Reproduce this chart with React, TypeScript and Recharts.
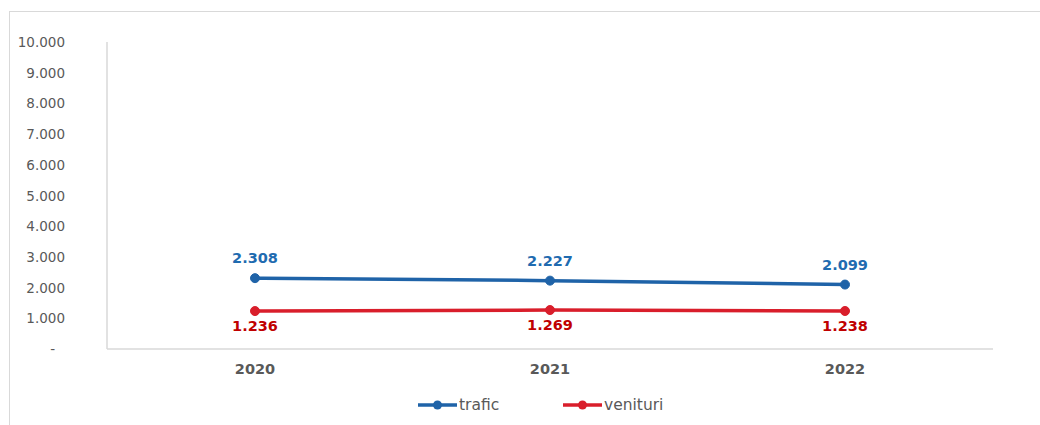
import React from "react";
import { LineChart, Line, XAxis, YAxis, LabelList } from "recharts";

const years = ["2020", "2021", "2022"];
const trafic = [2308, 2227, 2099];
const venituri = [1236, 1269, 1238];
const yTicks = [0, 1000, 2000, 3000, 4000, 5000, 6000, 7000, 8000, 9000, 10000];

const BLUE = "#1f63a8";
const RED = "#d91e2b";
const BLUE_LABEL = "#1f6bb0";
const RED_LABEL = "#c00000";
const GRAY = "#595959";
const FONT = "'DejaVu Sans', Verdana, sans-serif";

const data = years.map((y, i) => ({ year: y, trafic: trafic[i], venituri: venituri[i] }));

const fmt = (v: number) => (v === 0 ? "-" : v.toLocaleString("de-DE"));

const YTick = (props: any) => {
  const { x, y, payload } = props;
  const isZero = payload.value === 0;
  return (
    <text x={isZero ? x - 10 : x} y={y} dy={5} textAnchor="end" fill={GRAY} fontSize={13.5} fontFamily={FONT}>
      {fmt(payload.value)}
    </text>
  );
};

const XTick = (props: any) => {
  const { x, y, payload } = props;
  return (
    <text x={x} y={y + 17} textAnchor="middle" fill={GRAY} fontSize={14.5} fontWeight="bold" fontFamily={FONT}>
      {payload.value}
    </text>
  );
};

const labelAbove = (props: any) => {
  const { x, y, value } = props;
  return (
    <text x={x} y={y - 15} textAnchor="middle" fill={BLUE_LABEL} fontSize={14.5} fontWeight="bold" fontFamily={FONT}>
      {fmt(value)}
    </text>
  );
};

const labelBelow = (props: any) => {
  const { x, y, value } = props;
  return (
    <text x={x} y={y + 20} textAnchor="middle" fill={RED_LABEL} fontSize={14.5} fontWeight="bold" fontFamily={FONT}>
      {fmt(value)}
    </text>
  );
};

const LegendItem = ({ color, text, left }: { color: string; text: string; left: number }) => (
  <div style={{ position: "absolute", left, top: 384, display: "flex", alignItems: "center", height: 18 }}>
    <svg width={40} height={12} style={{ display: "block" }}>
      <line x1={0} y1={6} x2={39} y2={6} stroke={color} strokeWidth={3.5} />
      <circle cx={19.5} cy={6} r={4.5} fill={color} />
    </svg>
    <span style={{ fontFamily: FONT, fontSize: 15.5, color: GRAY, marginLeft: 1, lineHeight: "18px" }}>{text}</span>
  </div>
);

export default function App() {
  return (
    <div
      style={{
        position: "fixed",
        left: 9,
        top: 11,
        width: 1040,
        height: 420,
        borderTop: "1px solid #d9d9d9",
        borderLeft: "1px solid #d9d9d9",
        background: "#fff",
      }}
    >
      <LineChart width={1030} height={413} data={data} margin={{ top: 30, right: 47, left: 0, bottom: 0 }}>
        <XAxis
          dataKey="year"
          height={76}
          padding={{ left: 148, right: 148 }}
          axisLine={{ stroke: "#d9d9d9", strokeWidth: 1.5 }}
          tickLine={false}
          tick={<XTick />}
          interval={0}
        />
        <YAxis
          width={97}
          domain={[0, 10000]}
          ticks={yTicks}
          interval={0}
          axisLine={{ stroke: "#d9d9d9", strokeWidth: 1.5 }}
          tickLine={false}
          tickSize={0}
          tickMargin={42}
          tick={<YTick />}
        />
        <Line
          dataKey="trafic"
          stroke={BLUE}
          strokeWidth={3.5}
          dot={{ r: 4.5, fill: BLUE, stroke: BLUE, strokeWidth: 1 }}
          isAnimationActive={false}
        >
          <LabelList dataKey="trafic" content={labelAbove} />
        </Line>
        <Line
          dataKey="venituri"
          stroke={RED}
          strokeWidth={3.5}
          dot={{ r: 4.5, fill: RED, stroke: RED, strokeWidth: 1 }}
          isAnimationActive={false}
        >
          <LabelList dataKey="venituri" content={labelBelow} />
        </Line>
      </LineChart>
      <LegendItem color={BLUE} text="trafic" left={408} />
      <LegendItem color={RED} text="venituri" left={553} />
    </div>
  );
}
